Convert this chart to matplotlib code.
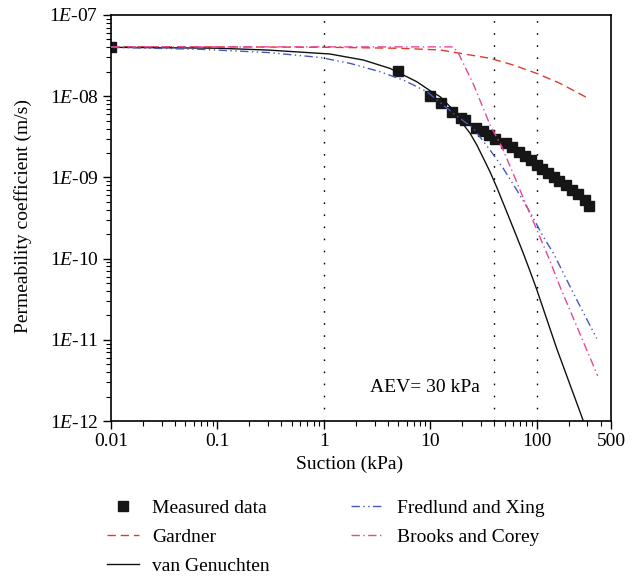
import matplotlib
matplotlib.use('Agg')
import matplotlib.pyplot as plt
from matplotlib.ticker import FixedLocator, LogLocator, NullFormatter

plt.rcParams['font.family'] = 'Liberation Serif'
plt.rcParams['mathtext.fontset'] = 'custom'
plt.rcParams['mathtext.rm'] = 'Liberation Serif'
plt.rcParams['mathtext.it'] = 'Liberation Serif:italic'

# measured data (suction kPa, permeability m/s)
meas_x = [0.01, 5, 10, 12.6, 16, 19.4, 21, 26.8, 31.6, 36, 41, 51, 59, 69, 78, 88,
          101, 112, 128, 146, 163, 189, 215, 245, 283, 309]
meas_k = [4.0e-8, 2.04e-8, 1.01e-8, 8.2e-9, 6.3e-9, 5.4e-9, 5.15e-9, 4.1e-9, 3.7e-9,
          3.33e-9, 3.0e-9, 2.65e-9, 2.35e-9, 2.06e-9, 1.84e-9, 1.64e-9, 1.42e-9,
          1.28e-9, 1.14e-9, 1.0e-9, 8.95e-10, 8.0e-10, 7.0e-10, 6.2e-10, 5.3e-10, 4.5e-10]

# model curves
gard_x = [0.01, 0.1, 1.14, 5.2, 12.4, 23.7, 36.5, 60.4, 100, 166, 306]
gard_k = [4.05e-8, 4.05e-8, 4.0e-8, 3.89e-8, 3.71e-8, 3.22e-8, 2.93e-8, 2.42e-8,
          1.91e-8, 1.44e-8, 9.4e-9]

vg_x = [0.01, 0.1, 0.3, 1.14, 2.35, 4.19, 7.47, 9.96, 12.4, 16.5, 19.8, 23.7, 27.4,
        31.6, 36.5, 42.2, 48.6, 56.2, 65, 75, 86.7, 100, 154.5, 275]
vg_k = [4.0e-8, 3.9e-8, 3.7e-8, 3.31e-8, 2.79e-8, 2.2e-8, 1.51e-8, 1.17e-8, 9.86e-9,
        6.76e-9, 4.75e-9, 3.49e-9, 2.51e-9, 1.72e-9, 1.17e-9, 7.55e-10, 4.8e-10,
        2.99e-10, 1.86e-10, 1.16e-10, 7.0e-11, 4.2e-11, 7.8e-12, 1.0e-12]

fx_x = [0.01, 0.07, 0.3, 0.92, 1.76, 3.38, 5.59, 9.27, 16.5, 25.4, 36.5, 48.6, 65, 88,
        115.6, 144, 230, 367]
fx_k = [4.0e-8, 3.78e-8, 3.45e-8, 3.0e-8, 2.54e-8, 2.0e-8, 1.58e-8, 1.14e-8, 6.15e-9,
        4.03e-9, 2.17e-9, 1.29e-9, 7.0e-10, 3.6e-10, 1.86e-10, 1.16e-10, 3.4e-11, 1.04e-11]

bc_x = [0.01, 16.5, 18.4, 25.5, 36.5, 47, 58.3, 69.8, 83.6, 103.7, 128.8, 166, 375]
bc_k = [4.05e-8, 4.05e-8, 3.38e-8, 1.4e-8, 4.42e-9, 2.39e-9, 1.23e-9, 7.0e-10, 3.97e-10,
        2.05e-10, 1.05e-10, 4.5e-11, 3.6e-12]

ref_lines = [1, 40, 100]
x_ticks = [0.01, 0.1, 1, 10, 100, 500]
x_labels = ['0.01', '0.1', '1', '10', '100', '500']
y_ticks = [1e-12, 1e-11, 1e-10, 1e-9, 1e-8, 1e-7]
y_labels = [r'1$\mathit{E}$-12', r'1$\mathit{E}$-11', r'1$\mathit{E}$-10',
            r'1$\mathit{E}$-09', r'1$\mathit{E}$-08', r'1$\mathit{E}$-07']

fig = plt.figure(figsize=(6.42, 5.83), dpi=100)
ax = fig.add_axes([111/642, 1 - 421/583, 500/642, 406/583])

for xv in ref_lines:
    ax.axvline(xv, color='k', lw=1, ls=(0, (1.2, 7.5)), zorder=1)

ax.plot(meas_x, meas_k, ls='none', marker='s', ms=7.5, color='#161616',
        label='Measured data', zorder=2)
ax.plot(gard_x, gard_k, color='#e23a2a', lw=1, ls=(0, (6, 3.5)),
        label='Gardner', zorder=3)
ax.plot(vg_x, vg_k, color='#111111', lw=1, label='van Genuchten', zorder=3)
ax.plot(fx_x, fx_k, color='#4658c0', lw=1, ls=(0, (6, 2.5, 1, 2.5, 1, 2.5)),
        label='Fredlund and Xing', zorder=3)
ax.plot(bc_x, bc_k, color='#e8449a', lw=1, ls=(0, (6, 2.5, 1, 2.5)),
        label='Brooks and Corey', zorder=3)

ax.set_xscale('log')
ax.set_yscale('log')
ax.set_xlim(0.01, 500)
ax.set_ylim(1e-12, 1e-7)

ax.xaxis.set_major_locator(FixedLocator(x_ticks))
ax.set_xticklabels(x_labels)
ax.xaxis.set_minor_locator(LogLocator(base=10, subs=range(2, 10), numticks=20))
ax.xaxis.set_minor_formatter(NullFormatter())
ax.yaxis.set_major_locator(FixedLocator(y_ticks))
ax.set_yticklabels(y_labels)
ax.yaxis.set_minor_locator(LogLocator(base=10, subs=range(2, 10), numticks=20))
ax.yaxis.set_minor_formatter(NullFormatter())

ax.tick_params(which='major', direction='out', length=6, width=1, labelsize=14,
               top=False, right=False, pad=3)
ax.tick_params(which='minor', direction='out', length=3.5, width=0.8,
               top=False, right=False)
for sp in ax.spines.values():
    sp.set_linewidth(1.2)

ax.set_xlabel('Suction (kPa)', fontsize=14)
ax.xaxis.set_label_coords((350 - 111) / 500, -0.085)
ax.set_ylabel('Permeability coefficient (m/s)', fontsize=14)
ax.yaxis.set_label_coords(-0.158, 0.505)

ax.text(8.9, 2.55e-12, 'AEV= 30 kPa', fontsize=14, ha='center', va='center')

fig.legend(loc='upper left', bbox_to_anchor=(107/642, 1 - 499/583), ncol=2,
           frameon=False, fontsize=14, handlelength=1.65, handletextpad=0.67,
           columnspacing=4.2, labelspacing=0.6, borderpad=0, borderaxespad=0)

plt.savefig('out.png', dpi=100)
